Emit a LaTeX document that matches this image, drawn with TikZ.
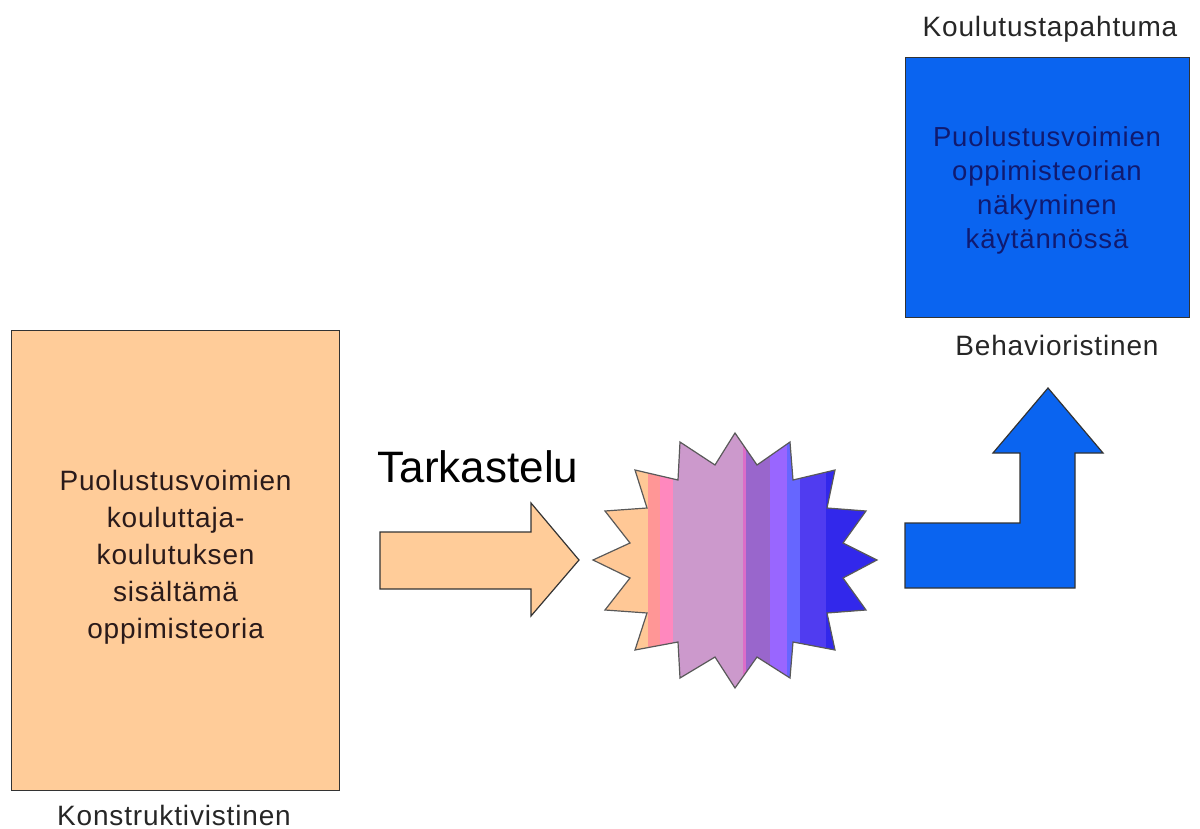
\documentclass[tikz,border=0pt]{standalone}
\usepackage{fontspec}
\setmainfont{Liberation Sans}
\newfontfamily\widefont[LetterSpace=3]{Liberation Sans}
\begin{document}
\begin{tikzpicture}[x=1pt,y=-1pt,
  outl/.style={draw=black!80, line width=1.2pt, line join=miter},
  bodytxt/.style={align=center, font=\widefont\fontsize{28}{37}\selectfont},
  labeltxt/.style={font=\widefont\fontsize{28}{32}\selectfont, text=black!85, inner sep=0.5pt},
]
\useasboundingbox (0,0) rectangle (1200,829);
\definecolor{peach}{HTML}{FFCC99}
\definecolor{bluefill}{HTML}{0A64F0}
\definecolor{navytxt}{HTML}{101A70}
\definecolor{browntxt}{HTML}{2A1A1A}
% left box
\node[outl, fill=peach, minimum width=328pt, minimum height=460pt, inner sep=0pt, anchor=north west] (konbox) at (11,330) {};
\node[bodytxt, text=browntxt] (kontext) at (konbox.center) [yshift=3pt] {Puolustusvoimien\\kouluttaja-\\koulutuksen\\sisältämä\\oppimisteoria};
\node[labeltxt] (konlabel) at (174,815) {Konstruktivistinen};
% top right box
\node[outl, fill=bluefill, minimum width=284pt, minimum height=260pt, inner sep=0pt, anchor=north west] (behbox) at (905,57) {};
\node[align=center, font=\widefont\fontsize{27.5}{34}\selectfont, text=navytxt] (behtext) at (1047,190) {Puolustusvoimien\\oppimisteorian\\näkyminen\\käytännössä};
\node[labeltxt] (tophead) at (1050,29) {Koulutustapahtuma};
\node[labeltxt] (behlabel) at (1057,345) {Behavioristinen};
% Tarkastelu
\node[font=\fontsize{44}{48}\selectfont] (tark) at (478,467) {Tarkastelu};
% peach block arrow
\coordinate (arrtail) at (380,560);
\coordinate (arrtip) at (579,560);
\draw[outl, fill=peach] (380,532) -- (531,532) -- (531,503) -- (arrtip) -- (531,616) -- (531,589) -- (380,589) -- cycle;
% starburst
\def\starpath{(735,433) -- (757,465) -- (790,442) -- (793,480) -- (835,470) -- (827,508) -- (866,511) -- (843,543) -- (877,560) -- (843,578) -- (866,610) -- (827,613) -- (835,650) -- (793,642) -- (790,678) -- (757,657) -- (735,688) -- (715,657) -- (680,678) -- (678,642) -- (635,650) -- (647,613) -- (605,610) -- (630,578) -- (593,560) -- (630,543) -- (605,511) -- (647,508) -- (635,470) -- (678,480) -- (680,442) -- (715,465) -- cycle}
\begin{scope}
  \clip \starpath;
  \fill[color={rgb,255:red,255;green,200;blue,150}] (590,430) rectangle (648,690);
  \fill[color={rgb,255:red,255;green,150;blue,150}] (648,430) rectangle (660,690);
  \fill[color={rgb,255:red,255;green,136;blue,190}] (660,430) rectangle (673,690);
  \fill[color={rgb,255:red,204;green,153;blue,204}] (673,430) rectangle (743,690);
  \fill[color={rgb,255:red,220;green,110;blue,200}] (743,430) rectangle (746,690);
  \fill[color={rgb,255:red,153;green,102;blue,204}] (746,430) rectangle (770,690);
  \fill[color={rgb,255:red,153;green,102;blue,255}] (770,430) rectangle (787,690);
  \fill[color={rgb,255:red,102;green,102;blue,255}] (787,430) rectangle (800,690);
  \fill[color={rgb,255:red,80;green,60;blue,240}] (800,430) rectangle (826,690);
  \fill[color={rgb,255:red,50;green,40;blue,235}] (826,430) rectangle (880,690);
\end{scope}
\draw[outl, draw=black!65] \starpath;
\coordinate (star) at (735,560);
% bent blue arrow
\coordinate (bendtip) at (1048,388);
\draw[outl, fill=bluefill] (905,588) -- (905,523) -- (1020,523) -- (1020,453) -- (993,453) -- (bendtip) -- (1103,453) -- (1075,453) -- (1075,588) -- cycle;
\end{tikzpicture}
\end{document}
